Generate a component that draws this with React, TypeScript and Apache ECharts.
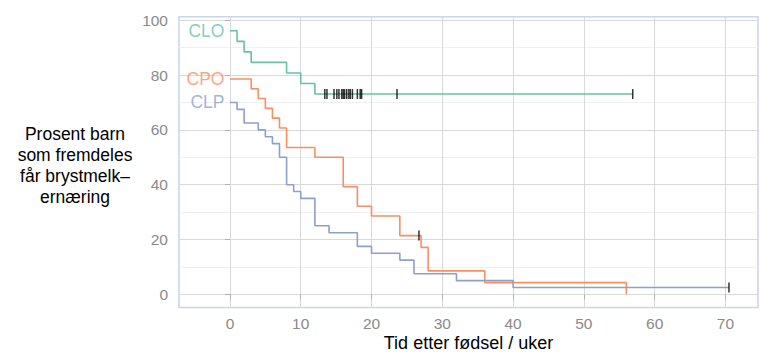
import React, { useEffect, useRef } from "react";
import * as echarts from "echarts";

const FONT = '"Liberation Sans", Arial, sans-serif';

const groupNames = ["CLO", "CPO", "CLP"];
const groupColors = ["#66c2a5", "#fc8d62", "#8da0cb"];

// Kaplan-Meier step curves: time (weeks) where the value starts, value (%)
const cloTimes = [0, 1, 2, 3, 8, 10, 12, 56.9];
const cloSurv = [96.15, 92.31, 88.46, 84.62, 80.77, 76.92, 73.08, 73.08];
const cloCensor = [13.4, 13.7, 14.7, 15.1, 15.4, 15.8, 16.0, 16.2, 16.5, 16.8, 17.0, 17.3, 18.0, 18.4, 18.6, 23.6, 56.9];

const cpoTimes = [0, 3, 4, 5, 6, 7, 8, 12, 16, 18, 20, 24, 27, 28, 36, 56];
const cpoSurv = [78.57, 75, 71.43, 67.86, 64.29, 60.71, 53.57, 50, 39.29, 32.14, 28.57, 21.43, 17.14, 8.57, 4.29, 0];
const cpoCensor = [26.7];

const clpTimes = [0, 1, 2, 4, 5, 6, 7, 8, 9, 10, 12, 14, 18, 20, 24, 26, 32, 40, 70.5];
const clpSurv = [70, 67.5, 62.5, 60, 57.5, 55, 50, 40, 37.5, 35, 25, 22.5, 17.5, 15, 12.5, 7.5, 5, 2.5, 2.5];
const clpCensor = [70.5];

const xTicks = [0, 10, 20, 30, 40, 50, 60, 70];
const yTicks = [0, 20, 40, 60, 80, 100];
const yMinorTicks = [10, 30, 50, 70, 90];

const xTitle = "Tid etter fødsel / uker";
const yTitle = "Prosent barn\nsom fremdeles\nfår brystmelk–\nernæring";

function survAt(times: number[], surv: number[], t: number): number {
  let v = surv[0];
  for (let i = 0; i < times.length; i++) {
    if (times[i] <= t) v = surv[i];
  }
  return v;
}

export default function App() {
  const ref = useRef<HTMLDivElement>(null);

  useEffect(() => {
    if (!ref.current) return;
    const chart = echarts.init(ref.current, undefined, { renderer: "svg" });

    const curves = [
      { times: cloTimes, surv: cloSurv, censor: cloCensor },
      { times: cpoTimes, surv: cpoSurv, censor: cpoCensor },
      { times: clpTimes, surv: clpSurv, censor: clpCensor },
    ];

    const lineSeries = curves.map((c, i) => ({
      type: "line",
      name: groupNames[i],
      step: "end",
      data: c.times.map((t, j) => [t, c.surv[j]]),
      showSymbol: false,
      symbol: "none",
      lineStyle: { color: groupColors[i], width: 1.6 },
      itemStyle: { color: groupColors[i] },
      z: 2,
      silent: true,
    }));

    const censorSeries = curves.map((c, i) => ({
      type: "scatter",
      name: groupNames[i] + " sensurert",
      data: c.censor.map((t) => [t, survAt(c.times, c.surv, t)]),
      symbol: "rect",
      symbolSize: [1.5, 10],
      itemStyle: { color: "#000" },
      z: 3,
      silent: true,
    }));

    const labelSeries = {
      type: "scatter",
      name: "labels",
      data: curves.map((c, i) => ({
        value: [c.times[0], c.surv[0]],
        label: {
          show: true,
          position: "left",
          distance: 5,
          formatter: groupNames[i],
          color: groupColors[i],
          fontSize: 17.5,
          fontFamily: FONT,
        },
      })),
      symbolSize: 1,
      itemStyle: { color: "rgba(0,0,0,0)" },
      z: 4,
      silent: true,
    };

    const axisLabelStyle = { color: "#8a8a8a", fontSize: 15.5, fontFamily: FONT };

    chart.setOption({
      animation: false,
      grid: {
        left: 179,
        top: 16.7,
        width: 579,
        height: 290.8,
        show: true,
        borderColor: "#c6d6ec",
        borderWidth: 1.5,
        backgroundColor: "transparent",
        containLabel: false,
        outerBoundsMode: "none",
      },
      xAxis: {
        type: "value",
        min: -7.2,
        max: 74.6,
        axisLine: { show: false },
        axisTick: { show: true, length: 5, customValues: xTicks, lineStyle: { color: "#b0b0b0" } },
        axisLabel: { ...axisLabelStyle, customValues: xTicks, margin: 8 },
        splitLine: { show: true, lineStyle: { color: "#d9d9d9", width: 1 } },
        name: xTitle,
        nameLocation: "middle",
        nameGap: 26,
        nameMoveOverlap: false,
        nameTextStyle: { color: "#000", fontSize: 18, fontFamily: FONT },
      },
      yAxis: [
        {
          type: "value",
          min: -4.8,
          max: 101.3,
          axisLine: { show: false },
          axisTick: { show: true, length: 5, customValues: yTicks, lineStyle: { color: "#b0b0b0" } },
          axisLabel: { ...axisLabelStyle, customValues: yTicks, margin: 11 },
          splitLine: { show: true, lineStyle: { color: "#d9d9d9", width: 1 } },
        },
        {
          type: "value",
          position: "left",
          min: -4.8,
          max: 101.3,
          axisLine: { show: false },
          axisTick: { show: false, customValues: yMinorTicks },
          axisLabel: { show: false, customValues: yMinorTicks },
          splitLine: { show: true, lineStyle: { color: "#f0f0f0", width: 1 } },
        },
      ],
      graphic: [
        {
          type: "text",
          x: 75,
          y: 165,
          style: {
            text: yTitle,
            fill: "#000",
            fontSize: 17.5,
            fontFamily: FONT,
            align: "center",
            verticalAlign: "middle",
            textAlign: "center",
            textVerticalAlign: "middle",
            lineHeight: 21,
          },
        },
      ],
      series: [...lineSeries, ...censorSeries, labelSeries],
    });

    return () => {
      chart.dispose();
    };
  }, []);

  return (
    <div
      ref={ref}
      style={{ position: "fixed", left: 0, top: 0, width: 760, height: 354, background: "#fff" }}
    />
  );
}
